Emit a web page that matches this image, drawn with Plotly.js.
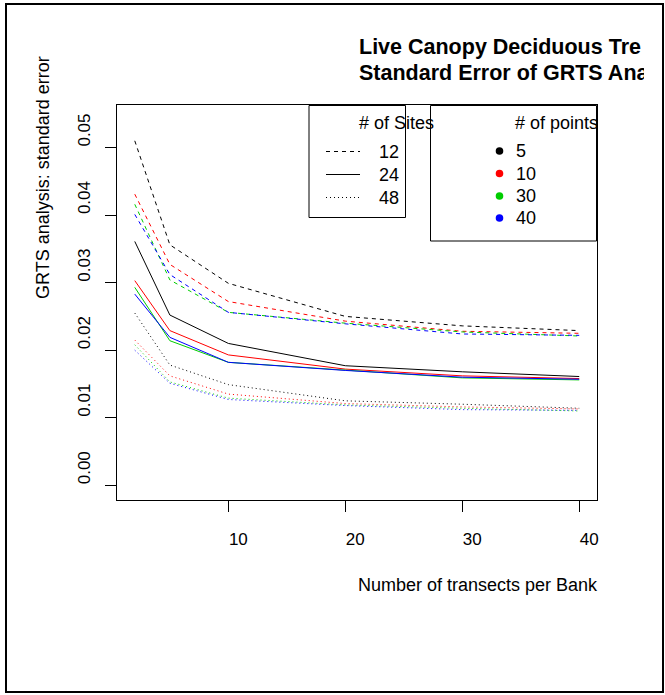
<!DOCTYPE html>
<html>
<head>
<meta charset="utf-8">
<script src="https://cdn.plot.ly/plotly-3.0.1.min.js"></script>
<style>
  html, body { margin: 0; padding: 0; background: #fff; }
  #wrap { position: relative; width: 665px; height: 695px; }
  #chart { width: 665px; height: 695px; }
  #clip { position: absolute; left: 644px; top: 25px; width: 16px; height: 65px; background: #fff; }
</style>
</head>
<body>
<div id="wrap"><div id="chart"></div><div id="clip"></div></div>
<script>
// ---- data ----
const transects = [2, 5, 10, 20, 30, 40];
const siteLabels = ['12', '24', '48'];
const pointLabels = ['5', '10', '30', '40'];
const xTickVals = [10, 20, 30, 40];
const yTickVals = [0, 0.01, 0.02, 0.03, 0.04, 0.05];
const yTickText = ['0.00', '0.01', '0.02', '0.03', '0.04', '0.05'];

const se12_p5  = [0.0510, 0.0356, 0.0299, 0.0250, 0.0236, 0.0229];
const se12_p10 = [0.0431, 0.0327, 0.0272, 0.0243, 0.0228, 0.0225];
const se12_p30 = [0.0416, 0.0304, 0.0256, 0.0240, 0.0227, 0.0221];
const se12_p40 = [0.0401, 0.0312, 0.0256, 0.0239, 0.0224, 0.0222];
const se24_p5  = [0.0361, 0.0252, 0.0210, 0.0177, 0.0168, 0.0161];
const se24_p10 = [0.0303, 0.0229, 0.0193, 0.0172, 0.0162, 0.0158];
const se24_p30 = [0.0293, 0.0214, 0.0182, 0.0170, 0.0159, 0.0156];
const se24_p40 = [0.0283, 0.0219, 0.0182, 0.0170, 0.0160, 0.0157];
const se48_p5  = [0.0255, 0.0178, 0.0149, 0.0125, 0.0120, 0.0114];
const se48_p10 = [0.0215, 0.0162, 0.0135, 0.0121, 0.0116, 0.0113];
const se48_p30 = [0.0208, 0.0153, 0.0129, 0.0119, 0.0114, 0.0110];
const se48_p40 = [0.0200, 0.0151, 0.0127, 0.0118, 0.0112, 0.0111];

const seriesBySites = [
  [se12_p5, se12_p10, se12_p30, se12_p40],
  [se24_p5, se24_p10, se24_p30, se24_p40],
  [se48_p5, se48_p10, se48_p30, se48_p40]
];

// ---- styles ----
const colors = ['#000000', '#FF0000', '#00CD00', '#0000FF'];
const dashes = ['4px,4px', 'solid', '1px,3px'];
const FONT = 'Liberation Sans, Arial, Helvetica, sans-serif';

const traces = [];
seriesBySites.forEach((group, si) => {
  group.forEach((vals, pi) => {
    traces.push({
      x: transects, y: vals, type: 'scatter', mode: 'lines',
      name: siteLabels[si] + ' sites, ' + pointLabels[pi] + ' points',
      line: { color: colors[pi], width: 1, dash: dashes[si] },
      showlegend: false, hoverinfo: 'skip'
    });
  });
});

// plot area in pixels
const L = 117, T = 105, W = 480, H = 395;
const px = x => (x - L) / W;
const py = y => (T + H - y) / H;

const shapes = [];
const annotations = [];

// outer frame
shapes.push({ type: 'rect', xref: 'paper', yref: 'paper',
  x0: px(6), x1: px(663), y0: py(4), y1: py(692),
  line: { color: '#000', width: 2 }, fillcolor: 'rgba(0,0,0,0)' });

// title
annotations.push({ xref: 'paper', yref: 'paper', x: px(357), y: py(47), xanchor: 'left', yanchor: 'middle',
  text: '<b>Live Canopy Deciduous Tre</b>', showarrow: false, font: { family: FONT, size: 21.5, color: '#000' } });
annotations.push({ xref: 'paper', yref: 'paper', x: px(357), y: py(73), xanchor: 'left', yanchor: 'middle',
  text: '<b>Standard Error of GRTS Ana</b>', showarrow: false, font: { family: FONT, size: 21.5, color: '#000' } });

// axis titles
annotations.push({ xref: 'paper', yref: 'paper', x: px(478), y: py(585), xanchor: 'center', yanchor: 'middle',
  text: 'Number of transects per Bank', showarrow: false, font: { family: FONT, size: 18, color: '#000' } });
annotations.push({ xref: 'paper', yref: 'paper', x: px(43), y: py(178), xanchor: 'center', yanchor: 'middle',
  textangle: -90, text: 'GRTS analysis: standard error', showarrow: false, font: { family: FONT, size: 18, color: '#000' } });

// legend: # of Sites
shapes.push({ type: 'rect', xref: 'paper', yref: 'paper', x0: px(309), x1: px(405.5), y0: py(105.5), y1: py(217.5),
  line: { color: '#000', width: 1 }, fillcolor: 'rgba(0,0,0,0)' });
annotations.push({ xref: 'paper', yref: 'paper', x: px(396), y: py(123), xanchor: 'center', yanchor: 'middle',
  text: '# of Sites', showarrow: false, font: { family: FONT, size: 18, color: '#000' } });
const siteY = [151.5, 174.5, 197.5];
siteLabels.forEach((lab, i) => {
  shapes.push({ type: 'line', xref: 'paper', yref: 'paper', x0: px(326), x1: px(360), y0: py(siteY[i]), y1: py(siteY[i]),
    line: { color: '#000', width: 1, dash: dashes[i] } });
  annotations.push({ xref: 'paper', yref: 'paper', x: px(377), y: py(siteY[i]), xanchor: 'left', yanchor: 'middle',
    text: lab, showarrow: false, font: { family: FONT, size: 18, color: '#000' } });
});

// legend: # of points
shapes.push({ type: 'rect', xref: 'paper', yref: 'paper', x0: px(430.5), x1: px(596.5), y0: py(105.5), y1: py(241),
  line: { color: '#000', width: 1 }, fillcolor: 'rgba(0,0,0,0)' });
annotations.push({ xref: 'paper', yref: 'paper', x: px(556), y: py(123), xanchor: 'center', yanchor: 'middle',
  text: '# of points', showarrow: false, font: { family: FONT, size: 18, color: '#000' } });
const ptY = [151, 173.5, 196, 218];
pointLabels.forEach((lab, i) => {
  shapes.push({ type: 'circle', xref: 'paper', yref: 'paper', xsizemode: 'pixel', ysizemode: 'pixel',
    xanchor: px(499.5), yanchor: py(ptY[i]), x0: -3.8, x1: 3.8, y0: -3.8, y1: 3.8,
    fillcolor: colors[i], line: { color: colors[i], width: 0 } });
  annotations.push({ xref: 'paper', yref: 'paper', x: px(514), y: py(ptY[i]), xanchor: 'left', yanchor: 'middle',
    text: lab, showarrow: false, font: { family: FONT, size: 18, color: '#000' } });
});

const layout = {
  width: 665, height: 695,
  margin: { l: L, r: 665 - L - W, t: T, b: 695 - T - H, pad: 0 },
  paper_bgcolor: '#fff', plot_bgcolor: '#fff',
  showlegend: false,
  font: { family: FONT, size: 17, color: '#000' },
  xaxis: {
    range: [0.48, 41.52], tickvals: xTickVals, ticktext: xTickVals.map(String),
    ticks: 'outside', ticklen: 11, tickwidth: 1, tickcolor: '#000',
    showline: true, mirror: true, linecolor: '#000', linewidth: 1,
    showgrid: false, zeroline: false,
    tickfont: { family: FONT, size: 17, color: '#000' },
    ticklabelshift: 10, ticklabelstandoff: 13
  },
  yaxis: {
    range: [-0.00218, 0.0563], tickvals: yTickVals, ticktext: yTickText,
    ticks: 'outside', ticklen: 11, tickwidth: 1, tickcolor: '#000',
    showline: true, mirror: true, linecolor: '#000', linewidth: 1,
    showgrid: false, zeroline: false, tickangle: -90,
    tickfont: { family: FONT, size: 17, color: '#000' },
    ticklabelshift: -15, ticklabelstandoff: 8
  },
  shapes: shapes,
  annotations: annotations
};

Plotly.newPlot('chart', traces, layout, { displayModeBar: false, staticPlot: true });
</script>
</body>
</html>
